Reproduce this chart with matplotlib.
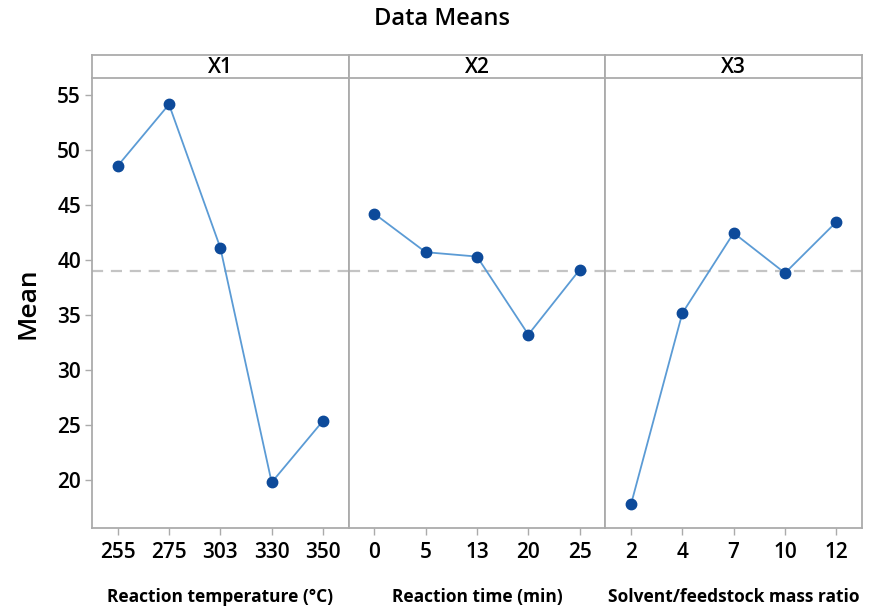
import matplotlib
matplotlib.use("Agg")
import matplotlib.pyplot as plt

plt.rcParams['font.family'] = ['Open Sans', 'DejaVu Sans']

# ---- data ----
factors = ["X1", "X2", "X3"]
x1_levels = ["255", "275", "303", "330", "350"]
x2_levels = ["0", "5", "13", "20", "25"]
x3_levels = ["2", "4", "7", "10", "12"]
x1_means = [48.55, 54.15, 41.1, 19.75, 25.35]
x2_means = [44.2, 40.7, 40.3, 33.2, 39.1]
x3_means = [17.75, 35.15, 42.45, 38.8, 43.45]
axis_titles = ["Reaction temperature (°C)", "Reaction time (min)",
               "Solvent/feedstock mass ratio"]
overall_mean = 39.0

levels = [x1_levels, x2_levels, x3_levels]
means = [x1_means, x2_means, x3_means]

W, H = 883, 608
fig = plt.figure(figsize=(W / 100, H / 100), dpi=100)

left, right = 92, 862
top_strip, top_plot, bottom = 55, 78, 528
pw = (right - left) / 3

edge = "#ababab"
line_c = "#5b9bd5"
mark_c = "#0d4a9a"
wt = "semibold"

for i in range(3):
    x0 = left + i * pw
    ax = fig.add_axes([x0 / W, (H - bottom) / H, pw / W, (bottom - top_plot) / H])
    xs = list(range(1, len(levels[i]) + 1))
    ax.axhline(overall_mean, color="#c4c4c4", lw=1.6, ls=(0, (5, 3.5)), zorder=1)
    ax.plot(xs, means[i], color=line_c, lw=1.3, zorder=2)
    ax.plot(xs, means[i], ls="none", marker="o", ms=7.5, color=mark_c, zorder=3)
    ax.set_xlim(0.5, 5.5)
    ax.set_ylim(15.6, 56.55)
    ax.set_xticks(xs)
    ax.set_xticklabels(levels[i], fontsize=15, fontweight=wt)
    ax.tick_params(axis="x", length=5, width=1, color=edge, pad=5)
    for s in ax.spines.values():
        s.set_color(edge)
        s.set_linewidth(1.3)
    ax.spines["top"].set_visible(False)
    if i == 0:
        ax.set_yticks([20, 25, 30, 35, 40, 45, 50, 55])
        ax.set_yticklabels(["20", "25", "30", "35", "40", "45", "50", "55"],
                           fontsize=15, fontweight=wt)
        ax.tick_params(axis="y", length=5, width=1, color=edge, pad=3)
        ax.set_ylabel("Mean", fontsize=19, fontweight=wt, labelpad=12)
    else:
        ax.set_yticks([])
    ax.set_xlabel(axis_titles[i], fontsize=12.5, fontweight="bold", labelpad=18)

    # strip
    sax = fig.add_axes([x0 / W, (H - top_plot) / H, pw / W, (top_plot - top_strip) / H])
    sax.set_xticks([])
    sax.set_yticks([])
    for s in sax.spines.values():
        s.set_color(edge)
        s.set_linewidth(1.3)
    sax.text(0.5, 0.45, factors[i], ha="center", va="center", fontsize=15,
             fontweight=wt, transform=sax.transAxes)

fig.text(0.5, 1 - 19 / H, "Data Means", ha="center", va="center", fontsize=17,
         fontweight=wt)

fig.savefig("out.png", dpi=100)
